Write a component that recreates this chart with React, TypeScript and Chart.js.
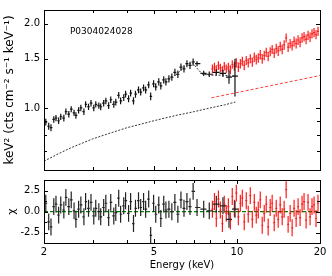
import React, { useEffect, useRef } from 'react';
import { Chart, registerables } from 'chart.js';
Chart.register(...registerables);

const obsId = 'P0304024028';
const xTitle = 'Energy (keV)';
const yTitleTop = 'keV\u00B2 (cts cm\u207B\u00B2 s\u207B\u00B9 keV\u207B\u00B9)';
const yTitleBottom = '\u03C7';

const xMajor = [2, 5, 10, 20];
const xMinor = [3, 4, 6, 7, 8, 9];
const yTopMajor = [1.0, 1.5, 2.0];
const yTopMinor = [0.6, 0.7, 0.8, 0.9];
const residMajor = [-2.5, 0, 2.5];
const residMinor = [-1.25, 1.25];

const blackE = [2.03, 2.08, 2.12, 2.17, 2.21, 2.26, 2.30, 2.36, 2.40, 2.46,
  2.51, 2.57, 2.61, 2.67, 2.72, 2.79, 2.83, 2.90, 2.96, 3.03,
  3.08, 3.16, 3.21, 3.29, 3.35, 3.43, 3.49, 3.58, 3.64, 3.73,
  3.79, 3.89, 3.95, 4.05, 4.12, 4.22, 4.29, 4.40, 4.48, 4.59,
  4.67, 4.79, 4.87, 4.99, 5.08, 5.21, 5.30, 5.43, 5.53, 5.67,
  5.81, 5.96, 6.11, 6.27, 6.43, 6.59, 6.76, 6.94, 7.17, 7.58,
  7.94, 8.42, 8.90, 9.36, 9.84];
const blackV = [0.89, 0.86, 0.85, 0.91, 0.92, 0.90, 0.93, 0.92, 0.97, 0.95,
  0.99, 0.96, 0.94, 0.98, 1.00, 0.97, 1.03, 1.01, 1.04, 1.00,
  1.03, 1.02, 1.01, 1.04, 1.06, 1.02, 1.07, 1.03, 1.05, 1.11,
  1.06, 1.09, 1.12, 1.08, 1.13, 1.06, 1.12, 1.16, 1.14, 1.18,
  1.16, 1.21, 1.10, 1.22, 1.19, 1.24, 1.20, 1.26, 1.24, 1.27,
  1.29, 1.34, 1.32, 1.40, 1.38, 1.44, 1.42, 1.46, 1.44, 1.33,
  1.32, 1.34, 1.33, 1.29, 1.30];
const blackErr = [0.025, 0.025, 0.025, 0.024, 0.024, 0.024, 0.024, 0.025, 0.025, 0.025,
  0.025, 0.025, 0.025, 0.025, 0.026, 0.026, 0.026, 0.026, 0.027, 0.027,
  0.027, 0.027, 0.028, 0.028, 0.028, 0.028, 0.029, 0.029, 0.029, 0.030,
  0.030, 0.030, 0.031, 0.031, 0.031, 0.032, 0.032, 0.032, 0.033, 0.033,
  0.034, 0.034, 0.035, 0.035, 0.036, 0.036, 0.037, 0.037, 0.038, 0.038,
  0.039, 0.040, 0.040, 0.041, 0.042, 0.042, 0.043, 0.044, 0.030, 0.028,
  0.030, 0.032, 0.040, 0.070, 0.200];
const blackResid = [1.0, -1.2, -1.8, 0.6, 0.9, -0.4, 0.8, 0.2, 1.7, 0.6,
  1.4, 0.1, -0.9, 0.3, 0.8, -0.6, 1.2, 0.4, 1.1, -0.5,
  0.4, 0.0, -0.6, 0.5, 1.0, -0.7, 1.1, -0.5, -0.1, 1.6,
  -0.3, 0.7, 1.3, -0.2, 1.2, -1.4, 0.4, 1.3, 0.5, 1.2,
  0.3, 1.5, -2.8, 1.0, -0.3, 0.8, -0.8, 0.9, 0.2, 0.3,
  0.0, 1.1, -0.3, 1.4, 0.4, 1.2, 0.6, 2.4, 0.5, 0.3,
  0.1, 0.9, 0.7, -0.9, 0.3];

const redE = [8.15, 8.29, 8.42, 8.57, 8.71, 8.86, 9.00, 9.15, 9.31, 9.47,
  9.62, 9.79, 9.95, 10.12, 10.29, 10.46, 10.63, 10.81, 10.99, 11.18,
  11.37, 11.56, 11.75, 11.95, 12.15, 12.35, 12.56, 12.77, 12.98, 13.20,
  13.42, 13.65, 13.88, 14.11, 14.35, 14.59, 14.83, 15.08, 15.33, 15.59,
  15.85, 16.11, 16.39, 16.66, 16.94, 17.22, 17.51, 17.81, 18.10, 18.41,
  18.71, 19.03, 19.35, 19.67];
const redV = [1.38, 1.40, 1.37, 1.42, 1.39, 1.36, 1.41, 1.38, 1.40, 1.37,
  1.43, 1.41, 1.45, 1.40, 1.44, 1.47, 1.42, 1.48, 1.45, 1.50,
  1.46, 1.52, 1.49, 1.51, 1.55, 1.50, 1.54, 1.58, 1.53, 1.59,
  1.62, 1.57, 1.63, 1.60, 1.66, 1.62, 1.68, 1.78, 1.65, 1.70,
  1.67, 1.73, 1.70, 1.75, 1.72, 1.78, 1.80, 1.76, 1.82, 1.79,
  1.84, 1.86, 1.83, 1.88];
const redErr = [0.05, 0.05, 0.05, 0.05, 0.05, 0.05, 0.05, 0.05, 0.05, 0.05,
  0.05, 0.05, 0.055, 0.055, 0.055, 0.055, 0.055, 0.055, 0.055, 0.055,
  0.055, 0.06, 0.06, 0.06, 0.06, 0.06, 0.06, 0.06, 0.06, 0.06,
  0.06, 0.06, 0.065, 0.065, 0.065, 0.065, 0.065, 0.065, 0.065, 0.065,
  0.065, 0.07, 0.07, 0.07, 0.07, 0.07, 0.07, 0.07, 0.07, 0.07,
  0.07, 0.07, 0.07, 0.07];
const redResid = [0.3, 1.2, -0.8, 1.5, 0.2, -1.4, 0.9, -0.2, 0.6, -1.1,
  1.8, 0.4, 2.2, -0.6, 1.0, 1.6, -1.2, 1.3, -0.3, 1.9,
  -0.9, 1.1, -0.4, 0.2, 1.4, -1.6, -0.2, 0.9, -1.8, 0.5,
  1.0, -1.3, 0.4, -0.9, 0.8, -0.6, 0.3, 2.6, -1.5, -0.2,
  -1.9, 0.4, -0.8, 0.6, -0.7, 0.9, 1.2, -1.0, 1.1, -0.6,
  0.6, 0.8, -0.8, 1.0];

const contE = [2.0, 2.25, 2.5, 3.0, 3.5, 4.0, 5.0, 6.0, 7.0, 8.0, 9.0, 9.87];
const contV = [0.645, 0.685, 0.72, 0.775, 0.815, 0.85, 0.9, 0.94, 0.97, 1.0, 1.025, 1.05];
const blackModelE = [6.0, 6.3, 6.6, 6.9, 7.2, 7.5, 8.0, 8.5, 9.0, 9.5, 9.84];
const blackModelV = [1.31, 1.37, 1.43, 1.45, 1.38, 1.32, 1.31, 1.31, 1.31, 1.30, 1.30];
const redModelE = [8.08, 20];
const redModelV = [1.087, 1.306];

const FONT = 'DejaVu Sans';

function errorBarData(E: number[], V: number[], err: number[]) {
  const pts: any[] = [];
  E.forEach((e, i) => {
    const prev = i > 0 ? E[i - 1] : (e * e) / E[i + 1];
    const next = i < E.length - 1 ? E[i + 1] : (e * e) / E[i - 1];
    const lo = Math.sqrt(prev * e);
    const hi = Math.sqrt(e * next);
    pts.push({ x: e, y: V[i] - err[i] }, { x: e, y: V[i] + err[i] }, { x: e, y: null });
    pts.push({ x: lo, y: V[i] }, { x: hi, y: V[i] }, { x: e, y: null });
  });
  return pts;
}

function lineData(E: number[], V: number[]) {
  return E.map((e, i) => ({ x: e, y: V[i] }));
}

const framePlugin = {
  id: 'frame',
  afterDatasetsDraw(chart: any, _args: any, opts: any) {
    const { ctx, chartArea } = chart;
    const { left, right, top, bottom } = chartArea;
    const xs = chart.scales.x;
    const ys = chart.scales.y;
    ctx.save();
    ctx.strokeStyle = '#000';
    ctx.lineWidth = 1;
    const seg = (x1: number, y1: number, x2: number, y2: number) => {
      ctx.beginPath();
      ctx.moveTo(x1, y1);
      ctx.lineTo(x2, y2);
      ctx.stroke();
    };
    const xt = (vals: number[], len: number) => vals.forEach((v) => {
      const p = Math.round(xs.getPixelForValue(v)) + 0.5;
      if (p < left || p > right) return;
      seg(p, top, p, top + len);
      seg(p, bottom, p, bottom - len);
    });
    const yt = (vals: number[], len: number) => vals.forEach((v) => {
      const p = Math.round(ys.getPixelForValue(v)) + 0.5;
      if (p < top - 1 || p > bottom + 1) return;
      seg(left, p, left + len, p);
      seg(right, p, right - len, p);
    });
    xt(opts.xMajor || [], 4);
    xt(opts.xMinor || [], 3);
    yt(opts.yMajor || [], 4);
    yt(opts.yMinor || [], 3);
    ctx.strokeRect(Math.round(left) + 0.5, Math.round(top) + 0.5, Math.round(right - left), Math.round(bottom - top));
    if (opts.label) {
      ctx.fillStyle = '#000';
      ctx.font = `9px "${FONT}"`;
      ctx.textBaseline = 'middle';
      ctx.textAlign = 'left';
      ctx.fillText(opts.label, left + (right - left) * 0.094, top + (bottom - top) * 0.135);
    }
    ctx.restore();
  },
};

function TopChart() {
  const ref = useRef<HTMLCanvasElement>(null);
  useEffect(() => {
    const chart = new Chart(ref.current!, {
      type: 'scatter',
      data: {
        datasets: [
          { data: lineData(contE, contV), showLine: true, borderColor: '#333', borderWidth: 1, borderDash: [2, 1.5], pointRadius: 0 },
          { data: lineData(redModelE, redModelV), showLine: true, borderColor: 'rgba(255,40,40,0.9)', borderWidth: 1, borderDash: [3, 2], pointRadius: 0 },
          { data: lineData(blackModelE, blackModelV), showLine: true, borderColor: '#333', borderWidth: 1, borderDash: [2, 1.5], pointRadius: 0 },
          { data: errorBarData(blackE, blackV, blackErr), showLine: true, spanGaps: false, borderColor: '#111', borderWidth: 1.2, pointRadius: 0 },
          { data: errorBarData(redE, redV, redErr), showLine: true, spanGaps: false, borderColor: 'rgba(255,0,0,0.9)', borderWidth: 1.2, pointRadius: 0 },
        ] as any,
      },
      options: {
        animation: false,
        responsive: false,
        events: [],
        layout: { padding: { left: 0, right: 12, top: 5, bottom: 2 } },
        plugins: {
          legend: { display: false },
          tooltip: { enabled: false },
          frame: { xMajor, xMinor, yMajor: yTopMajor, yMinor: yTopMinor, label: obsId },
        } as any,
        scales: {
          x: { type: 'logarithmic', min: 2, max: 20, display: false },
          y: {
            type: 'logarithmic',
            min: 0.6,
            max: 2.24,
            grid: { display: false, drawTicks: false },
            border: { display: false },
            afterFit: (s: any) => { s.width = 44; },
            afterBuildTicks: (s: any) => { s.ticks = yTopMajor.map((v) => ({ value: v })); },
            ticks: {
              color: '#000',
              padding: 4,
              font: { family: FONT, size: 10 },
              callback: (v: any) => Number(v).toFixed(1),
            },
            title: {
              display: true,
              text: yTitleTop,
              color: '#000',
              font: { family: FONT, size: 12 },
              padding: { top: 3, bottom: 0 },
            },
          },
        },
      } as any,
      plugins: [framePlugin],
    });
    return () => chart.destroy();
  }, []);
  return <canvas ref={ref} width={332} height={180} style={{ position: 'absolute', left: 0, top: 0 }} />;
}

function BottomChart() {
  const ref = useRef<HTMLCanvasElement>(null);
  useEffect(() => {
    const chart = new Chart(ref.current!, {
      type: 'scatter',
      data: {
        datasets: [
          { data: errorBarData(blackE, blackResid, blackE.map(() => 1)), showLine: true, spanGaps: false, borderColor: '#222', borderWidth: 1.2, pointRadius: 0 },
          { data: errorBarData(redE, redResid, redE.map(() => 1)), showLine: true, spanGaps: false, borderColor: 'rgba(255,0,0,0.9)', borderWidth: 1.2, pointRadius: 0 },
          { data: [{ x: 2, y: 0 }, { x: 20, y: 0 }], showLine: true, borderColor: '#008000', borderWidth: 1.2, borderDash: [4, 2], pointRadius: 0 },
        ] as any,
      },
      options: {
        animation: false,
        responsive: false,
        events: [],
        layout: { padding: { left: 0, right: 12, top: 8, bottom: 0 } },
        plugins: {
          legend: { display: false },
          tooltip: { enabled: false },
          frame: { xMajor, xMinor, yMajor: residMajor, yMinor: residMinor },
        } as any,
        scales: {
          x: {
            type: 'logarithmic',
            min: 2,
            max: 20,
            grid: { display: false, drawTicks: false },
            border: { display: false },
            afterFit: (s: any) => { s.height = 33; },
            afterBuildTicks: (s: any) => { s.ticks = xMajor.map((v) => ({ value: v })); },
            ticks: {
              color: '#000',
              padding: 3,
              autoSkip: false,
              maxRotation: 0,
              font: { family: FONT, size: 10 },
              callback: (v: any) => String(v),
            },
            title: {
              display: true,
              text: xTitle,
              color: '#000',
              font: { family: FONT, size: 10 },
              padding: { top: 0, bottom: 5 },
            },
          },
          y: {
            min: -3.7,
            max: 3.75,
            grid: { display: false, drawTicks: false },
            border: { display: false },
            afterFit: (s: any) => { s.width = 44; },
            afterBuildTicks: (s: any) => { s.ticks = residMajor.map((v) => ({ value: v })); },
            ticks: {
              color: '#000',
              padding: 4,
              font: { family: FONT, size: 10 },
              callback: (v: any) => Number(v).toFixed(1),
            },
            title: {
              display: true,
              text: yTitleBottom,
              color: '#000',
              font: { family: FONT, size: 11 },
              padding: { top: 6, bottom: 0 },
            },
          },
        },
      } as any,
      plugins: [framePlugin],
    });
    return () => chart.destroy();
  }, []);
  return <canvas ref={ref} width={332} height={106} style={{ position: 'absolute', left: 0, top: 170 }} />;
}

export default function App() {
  return (
    <div style={{ position: 'absolute', left: 0, top: 0, width: 332, height: 276, background: '#fff' }}>
      <TopChart />
      <BottomChart />
    </div>
  );
}
